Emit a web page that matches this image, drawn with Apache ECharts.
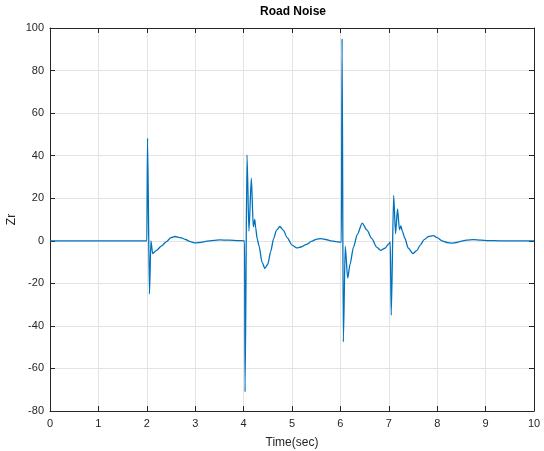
<!DOCTYPE html>
<html>
<head>
<meta charset="utf-8">
<title>Road Noise</title>
<script src="https://cdn.jsdelivr.net/npm/echarts@6/dist/echarts.min.js"></script>
<style>
  html, body { margin: 0; padding: 0; background: #ffffff; }
  #chart { width: 544px; height: 451px; }
</style>
</head>
<body>
<div id="chart"></div>
<script>
// Road displacement response Zr over time
const timeSec = [
  0, 2.0, 2.015, 2.055, 2.085, 2.12, 2.2, 2.3, 2.4, 2.5, 2.58, 2.7, 2.8, 2.9, 3.0, 3.1, 3.2, 3.3, 3.5, 3.7, 3.9, 4.0,
  4.02, 4.03, 4.07, 4.11, 4.16, 4.2, 4.23, 4.25, 4.28, 4.32, 4.38, 4.44, 4.5, 4.56, 4.62, 4.68, 4.75, 4.82, 4.9, 5.0,
  5.1, 5.2, 5.3, 5.4, 5.5, 5.6, 5.7, 5.8, 5.9, 6.0,
  6.02, 6.035, 6.06, 6.1, 6.15, 6.2, 6.27, 6.35, 6.45, 6.55, 6.65, 6.75, 6.83, 6.92, 7.0, 7.03,
  7.05, 7.1, 7.14, 7.18, 7.22, 7.25, 7.28, 7.33, 7.4, 7.5, 7.58, 7.65, 7.73, 7.82, 7.92, 8.0, 8.1, 8.2, 8.3, 8.4,
  8.5, 8.6, 8.75, 8.9, 9.05, 9.3, 10
];
const zr = [
  0, 0, 48.2, -25, 0, -6, -4.5, -2.5, -0.5, 1.5, 2.0, 1.5, 0.6, -0.4, -1.0, -0.8, -0.4, 0, 0.4, 0.3, 0.1, 0,
  0, -71, 40.4, 4.5, 29.4, 6.5, 10, 6, 1, -2.5, -10, -13, -11, -5, 1, 5, 6.7, 5, 1.5, -2,
  -3.3, -2.8, -1.7, -0.3, 0.7, 1.0, 0.6, 0, -0.4, -0.6,
  -0.6, 95, -47.5, -2.7, -17.5, -11, -3, 3, 8.3, 5, 1, -3, -4.5, -3.5, -1.5, -0.5,
  -35, 21.3, 3.3, 15, 5.2, 7, 4.5, 1.3, -3.4, -6, -4.5, -2, 0.5, 2, 2.4, 1.5, 0, -0.8, -1.1, -0.8,
  -0.2, 0.3, 0.5, 0.3, 0.1, 0, 0
];
const xTicks = [0, 10, 1];      // min, max, interval
const yTicks = [-80, 100, 20];  // min, max, interval

const axisColor = '#262626';
const gridColor = '#e3e3e3';
const fontFamily = '"Liberation Sans", Arial, Helvetica, sans-serif';

const chart = echarts.init(document.getElementById('chart'), null, { renderer: 'canvas' });

const baseLine = { show: true, onZero: false, lineStyle: { color: axisColor, width: 1 } };
const inTick = { show: true, inside: true, length: 5, lineStyle: { color: axisColor, width: 1 } };

chart.setOption({
  animation: false,
  backgroundColor: '#ffffff',
  graphic: [{
    type: 'text',
    left: 292 - 32,
    top: 6,
    style: { text: 'Road Noise', fontFamily, fontSize: 12, fontWeight: 'bold', fill: '#000000' }
  }],
  grid: { left: 50, right: 10, top: 28, bottom: 40, containLabel: false, outerBoundsMode: 'none' },
  xAxis: [{
    type: 'value',
    min: xTicks[0], max: xTicks[1], interval: xTicks[2],
    position: 'bottom',
    name: 'Time(sec)', nameLocation: 'middle', nameGap: 26, nameMoveOverlap: false,
    nameTextStyle: { color: axisColor, fontFamily, fontSize: 12 },
    axisLine: baseLine, axisTick: inTick,
    axisLabel: { color: axisColor, fontFamily, fontSize: 11, margin: 7 },
    splitLine: { show: true, lineStyle: { color: gridColor, width: 1 } }
  }, {
    type: 'value',
    min: xTicks[0], max: xTicks[1], interval: xTicks[2],
    position: 'top',
    axisLine: baseLine, axisTick: inTick,
    axisLabel: { show: false }, splitLine: { show: false }
  }],
  yAxis: [{
    type: 'value',
    min: yTicks[0], max: yTicks[1], interval: yTicks[2],
    position: 'left',
    name: 'Zr', nameLocation: 'middle', nameGap: 32, nameMoveOverlap: false,
    nameTextStyle: { color: axisColor, fontFamily, fontSize: 12 },
    axisLine: baseLine, axisTick: inTick,
    axisLabel: { color: axisColor, fontFamily, fontSize: 11, margin: 6 },
    splitLine: { show: true, lineStyle: { color: gridColor, width: 1 } }
  }, {
    type: 'value',
    min: yTicks[0], max: yTicks[1], interval: yTicks[2],
    position: 'right',
    axisLine: baseLine, axisTick: inTick,
    axisLabel: { show: false }, splitLine: { show: false }
  }],
  series: [{
    type: 'line',
    xAxisIndex: 0, yAxisIndex: 0,
    data: timeSec.map((t, i) => [t, zr[i]]),
    showSymbol: false,
    smooth: 0.25,
    smoothMonotone: 'x',
    lineStyle: { color: '#0072BD', width: 1.3 },
    z: 3
  }]
});
</script>
</body>
</html>
